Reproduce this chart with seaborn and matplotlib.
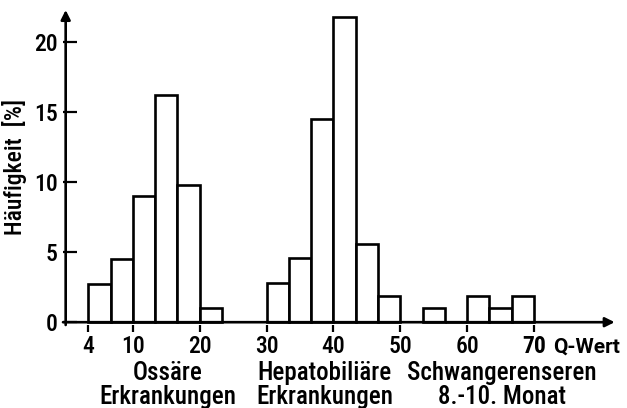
import numpy as np
import matplotlib
matplotlib.use("Agg")
import matplotlib.pyplot as plt
import seaborn as sns

# Q-Wert Klassengrenzen und Häufigkeiten [%]
oss_bins = [3.3, 6.7, 10.0, 13.3, 16.7, 20.0, 23.3]
oss_pct = [2.7, 4.5, 9.0, 16.2, 9.8, 1.0]

hep_bins = [30.0, 33.3, 36.7, 40.0, 43.3, 46.7, 50.0]
hep_pct = [2.8, 4.6, 14.5, 21.8, 5.6, 1.9]

sch_bins = [53.3, 56.7, 60.0, 63.3, 66.7, 70.0]
sch_pct = [1.0, 0.0, 1.9, 1.0, 1.9]

x_ticks = [3.3, 10, 20, 30, 40, 50, 60, 70]
x_ticklabels = ["4", "10", "20", "30", "40", "50", "60", "70"]
y_ticks = [0, 5, 10, 15, 20]

groups = [
    ("Ossäre\nErkrankungen", 15.3),
    ("Hepatobiliäre\nErkrankungen", 38.7),
    ("Schwangerenseren\n8.-10. Monat", 65.2),
]

sns.set_style("white")
plt.rcParams['font.family'] = ['Roboto Condensed', 'DejaVu Sans']
plt.rcParams['font.weight'] = 500
for k in ['text.color', 'axes.labelcolor', 'xtick.color', 'ytick.color']:
    plt.rcParams[k] = 'black'

fig = plt.figure(figsize=(6.27, 4.08), dpi=100)
ax = fig.add_axes([63 / 627, 83 / 408, 553 / 627, 315 / 408])

for edges, pct in [(oss_bins, oss_pct), (hep_bins, hep_pct), (sch_bins, sch_pct)]:
    mids = (np.array(edges[:-1]) + np.array(edges[1:])) / 2
    sns.histplot(x=mids, weights=pct, bins=edges, ax=ax, stat="count",
                 color="white", edgecolor="black", linewidth=1.9, alpha=1)

ax.set_xlim(-0.4, 82.2)
ax.set_ylim(-0.2, 22.3)
for s in ax.spines.values():
    s.set_visible(False)

# Achsen mit Pfeilen
ax.annotate("", xy=(0, 22.3), xytext=(0, -0.2),
            arrowprops=dict(arrowstyle="-|>", lw=1.9, color="black",
                            mutation_scale=14, shrinkA=0, shrinkB=0),
            annotation_clip=False)
ax.annotate("", xy=(82.0, 0), xytext=(-0.4, 0),
            arrowprops=dict(arrowstyle="-|>", lw=1.9, color="black",
                            mutation_scale=14, shrinkA=0, shrinkB=0),
            annotation_clip=False)

ax.set_yticks(y_ticks)
ax.set_yticklabels([str(v) for v in y_ticks])
ax.tick_params(axis="y", direction="in", length=10, width=1.6, pad=4,
               labelsize=17, left=True)
ax.set_xticks(x_ticks)
ax.set_xticklabels(x_ticklabels)
ax.tick_params(axis="x", direction="out", length=5, width=1.6, pad=2,
               labelsize=17, bottom=True)
ax.get_xticklabels()[-1].set_fontweight("bold")

ax.set_ylabel("Häufigkeit  [%]", fontsize=17, fontweight=500, labelpad=5)
ax.set_xlabel("")

ax.text(72.8, -1.75, "Q-Wert", fontsize=15, fontweight="bold",
        family=["Roboto", "DejaVu Sans"], ha="left", va="center")

for label, xc in groups:
    ax.text(xc, -2.8, label, fontsize=18, ha="center", va="top",
            linespacing=1.0)

fig.savefig("out.png", dpi=100, facecolor="white")
